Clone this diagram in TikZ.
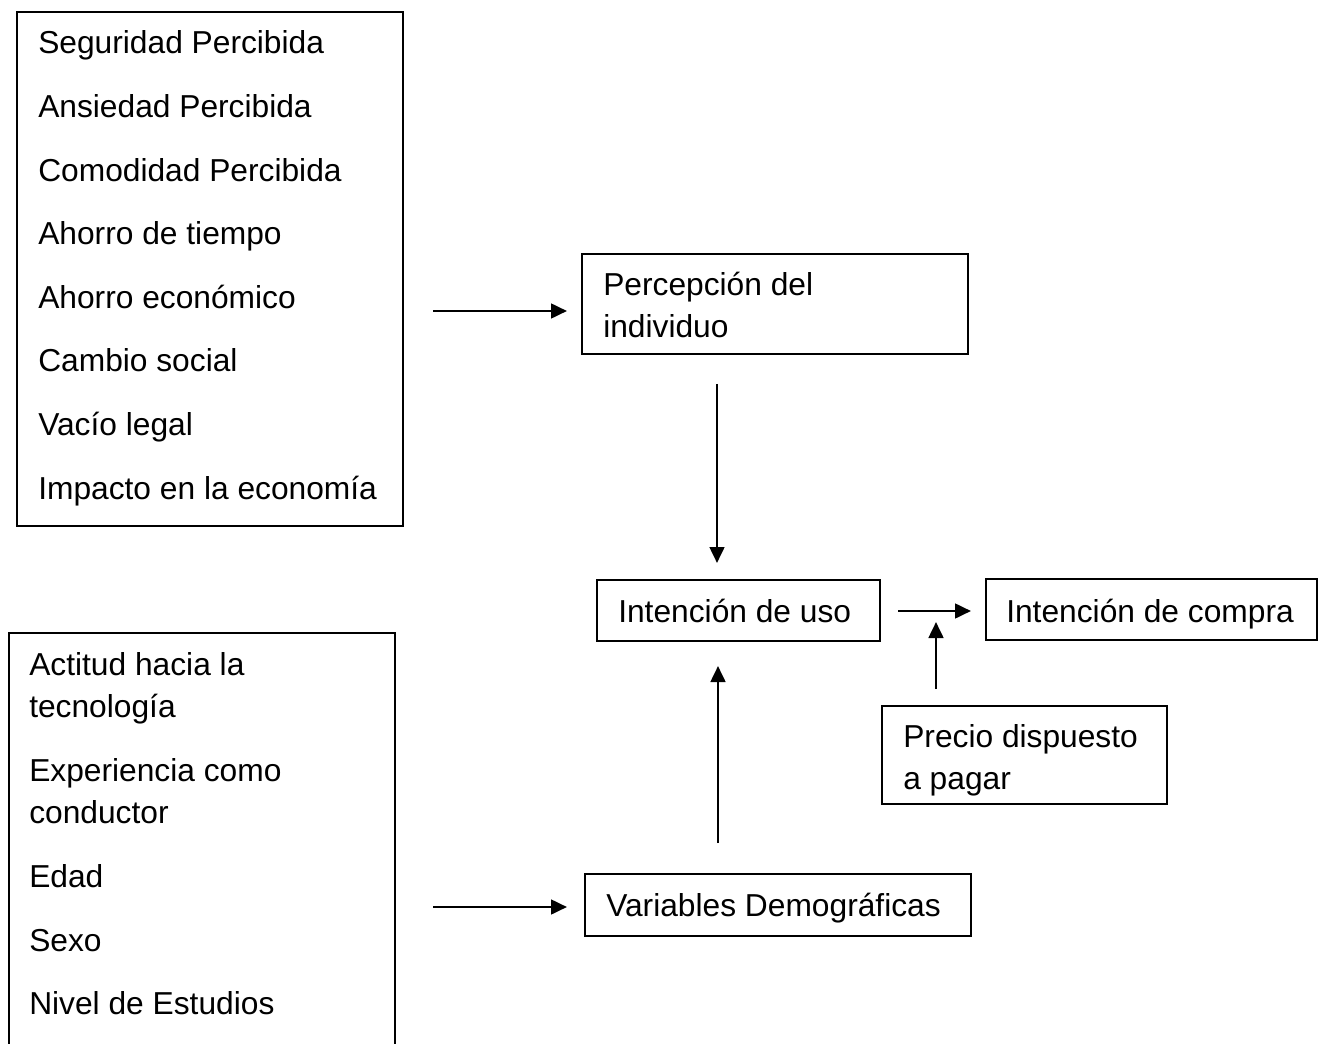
\documentclass[tikz,border=0pt]{standalone}
\usepackage{fontspec}
\setmainfont{Liberation Sans}
\usetikzlibrary{arrows.meta,fit}
\begin{document}
\begin{tikzpicture}[x=0.75pt,y=-0.75pt,
  box/.style={draw, line width=1.4pt, inner sep=0pt},
  boxline/.style={line width=1.4pt},
  lbl/.style={anchor=base west, inner sep=0pt, font=\fontsize{23.8}{31.5}\selectfont},
  arr/.style={-{Triangle[length=12pt,width=11pt]}, line width=2pt}]
\useasboundingbox[fill=white] (0,0) rectangle (1324,1044);
% boxes
\node[box, fit={(17,12) (403,526)}] (A) {};
\node[box, fit={(582,254) (968,354)}] (B) {};
\node[box, fit={(597,580) (880,641)}] (C) {};
\node[box, fit={(986,579) (1317,640)}] (D) {};
\node[box, fit={(882,706) (1167,804)}] (E) {};
\node[box, fit={(585,874) (971,936)}] (F) {};
\node[inner sep=0pt, fit={(9,633) (395,1044)}] (G) {};
\draw[boxline] (G.south west) -- (G.north west) -- (G.north east) -- (G.south east);
% texts box A
\node[lbl] (a1) at (38,54) {Seguridad Percibida};
\node[lbl] (a2) at (38,117.6) {Ansiedad Percibida};
\node[lbl] (a3) at (38,181.2) {Comodidad Percibida};
\node[lbl] (a4) at (38,244.8) {Ahorro de tiempo};
\node[lbl] (a5) at (38,308.4) {Ahorro económico};
\node[lbl] (a6) at (38,372) {Cambio social};
\node[lbl] (a7) at (38,435.6) {Vacío legal};
\node[lbl] (a8) at (38,499.2) {Impacto en la economía};
% box B
\node[lbl] (b1) at (603,296) {Percepción del};
\node[lbl] (b2) at (603,338) {individuo};
% box C, D
\node[lbl] (c1) at (618,622) {Intención de uso};
\node[lbl] (d1) at (1006,622) {Intención de compra};
% box E
\node[lbl] (e1) at (903,747) {Precio dispuesto};
\node[lbl] (e2) at (903,789) {a pagar};
% box F
\node[lbl] (f1) at (606,916) {Variables Demográficas};
% box G
\node[lbl] (g1) at (29,675) {Actitud hacia la};
\node[lbl] (g2) at (29,717) {tecnología};
\node[lbl] (g3) at (29,781) {Experiencia como};
\node[lbl] (g4) at (29,823) {conductor};
\node[lbl] (g5) at (29,887) {Edad};
\node[lbl] (g6) at (29,951) {Sexo};
\node[lbl] (g7) at (29,1014) {Nivel de Estudios};
% arrow end coordinates
\coordinate (p1s) at (433,311);
\coordinate (p1e) at (567,311);
\coordinate (p2s) at (717,384);
\coordinate (p2e) at (717,563);
\coordinate (p3s) at (898,611);
\coordinate (p3e) at (971,611);
\coordinate (p4s) at (936,689);
\coordinate (p4e) at (936,622);
\coordinate (p5s) at (718,843);
\coordinate (p5e) at (718,666);
\coordinate (p6s) at (433,907);
\coordinate (p6e) at (567,907);
\draw[arr] (p1s) -- (p1e);
\draw[arr] (p2s) -- (p2e);
\draw[arr] (p3s) -- (p3e);
\draw[arr] (p4s) -- (p4e);
\draw[arr] (p5s) -- (p5e);
\draw[arr] (p6s) -- (p6e);
\end{tikzpicture}
\end{document}
